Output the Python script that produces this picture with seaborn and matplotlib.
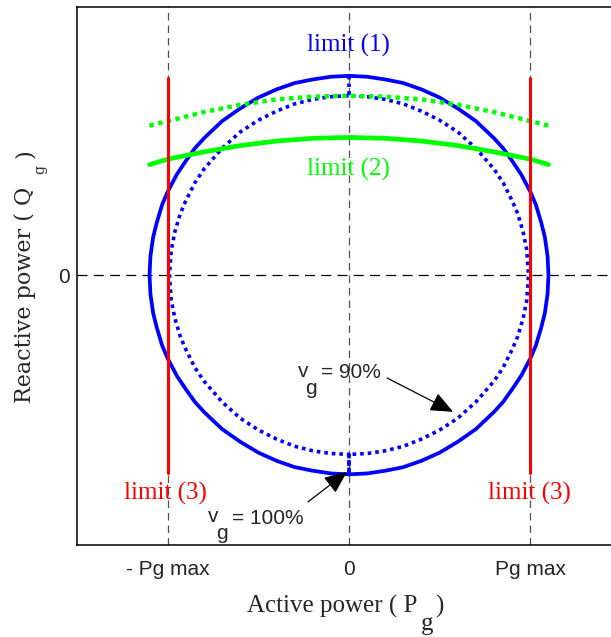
import numpy as np
import matplotlib
matplotlib.use("Agg")
import matplotlib.pyplot as plt
import seaborn as sns

# capability curves (P and Q in units of Pg max)
# first quadrant of each circle, mirrored to close the loop
p_outer = [0.0, 0.1, 0.2, 0.3, 0.4, 0.5, 0.6, 0.7, 0.8, 0.85, 0.9, 0.95, 1.0, 1.03, 1.06, 1.08, 1.095, 1.10]
q_outer = [1.10, 1.095, 1.08, 1.06, 1.025, 0.98, 0.92, 0.85, 0.755, 0.70, 0.63, 0.555, 0.46, 0.39, 0.29, 0.21, 0.105, 0.0]  # vg = 100%

p_inner = [0.0, 0.1, 0.2, 0.3, 0.4, 0.5, 0.6, 0.7, 0.8, 0.85, 0.9, 0.93, 0.96, 0.98, 0.99]
q_inner = [0.99, 0.985, 0.97, 0.945, 0.905, 0.855, 0.79, 0.70, 0.585, 0.51, 0.41, 0.34, 0.24, 0.14, 0.0]  # vg = 90%

# limit (2): field current limit
p_green = [-1.1, -1.0, -0.8, -0.6, -0.4, -0.2, 0.0, 0.2, 0.4, 0.6, 0.8, 1.0, 1.1]
q_green_100 = [0.61, 0.64, 0.68, 0.715, 0.74, 0.755, 0.76, 0.755, 0.74, 0.715, 0.68, 0.64, 0.61]
q_green_90 = [0.825, 0.85, 0.90, 0.94, 0.97, 0.985, 0.99, 0.985, 0.97, 0.94, 0.90, 0.85, 0.825]

# limit (3): turbine power limit
pg_max = 1.0
q_red = [-1.09, 1.09]

xticks = [-1, 0, 1]
xticklabels = ["- Pg max", "0", "Pg max"]


def closed_loop(p, q):
    p = np.asarray(p)
    q = np.asarray(q)
    px = np.concatenate([p, p[::-1][1:], -p[1:], -p[::-1][1:]])
    qy = np.concatenate([q, -q[::-1][1:], -q[1:], q[::-1][1:]])
    return px, qy


sns.set_style("white")
plt.rcParams["font.family"] = ["Liberation Sans", "DejaVu Sans"]

W, H = 611, 637
fig = plt.figure(figsize=(W / 100, H / 100), dpi=100)
ax = fig.add_axes([77 / W, 92 / H, 544 / W, 538 / H])

# reference lines
for x in xticks:
    ax.axvline(x, color="#505050", lw=0.9, ls=(0, (6, 4)), zorder=1)
ax.axhline(0, color="black", lw=0.9, ls=(0, (8, 5)), zorder=1)

# vg = 100 %
px, qy = closed_loop(p_outer, q_outer)
sns.lineplot(x=px, y=qy, sort=False, estimator=None, color="#0000ff", lw=2.7, ax=ax, zorder=3)

# vg = 90 %, joined to the outer curve at top and bottom
ix, iy = closed_loop(p_inner, q_inner)
half = len(p_inner) * 2 - 1
ix = np.concatenate([[0.0], ix[:half], [0.0, 0.0], ix[half:]])
iy = np.concatenate([[q_outer[0]], iy[:half], [-q_outer[0], -q_inner[0]], iy[half:]])
sns.lineplot(x=ix, y=iy, sort=False, estimator=None, color="#0000ff", lw=2.6,
             ls=(0, (1, 1.1)), ax=ax, zorder=3)

sns.lineplot(x=p_green, y=q_green_100, sort=False, estimator=None, color="#00ff00", lw=3.4, ax=ax, zorder=4)
sns.lineplot(x=p_green, y=q_green_90, sort=False, estimator=None, color="#00ff00", lw=3.2,
             ls=(0, (1, 1.0)), ax=ax, zorder=4)

for s in (-1, 1):
    sns.lineplot(x=[s * pg_max, s * pg_max], y=q_red, estimator=None, color="#ff0000", lw=2.2, ax=ax, zorder=5)

ax.set_xlim(-1.5, 1.5)
ax.set_ylim(-1.49, 1.48)
ax.set_xticks(xticks)
ax.set_xticklabels(xticklabels, fontsize=15)
ax.set_yticks([0])
ax.set_yticklabels(["0"], fontsize=15)
ax.tick_params(axis="x", length=0, pad=10.5)
ax.tick_params(axis="y", length=0, pad=5)
ax.set_xlabel("")
ax.set_ylabel("")
for side in ["left", "bottom", "top"]:
    ax.spines[side].set_color("black")
    ax.spines[side].set_linewidth(1.1)
ax.spines["right"].set_visible(False)

serif = "Liberation Serif"
ax.text(-0.005, 1.235, "limit (1)", color="#0000ff", fontsize=18, family=serif, ha="center", va="baseline")
ax.text(-0.005, 0.551, "limit (2)", color="#00ff00", fontsize=18, family=serif, ha="center", va="baseline")
ax.text(-1.01, -1.241, "limit (3)", color="#ff0000", fontsize=18, family=serif, ha="center", va="baseline")
ax.text(0.995, -1.241, "limit (3)", color="#ff0000", fontsize=18, family=serif, ha="center", va="baseline")

arrow = dict(arrowstyle="-|>,head_length=0.7,head_width=0.3", mutation_scale=20,
             color="black", lw=0.9, shrinkA=0, shrinkB=0)
ax.annotate("", xy=(0.574, -0.755), xytext=(0.21, -0.568), arrowprops=arrow)
ax.annotate("", xy=(-0.011, -1.086), xytext=(-0.226, -1.252), arrowprops=arrow)


def ftext(x, y, s, **kw):
    fig.text(x / W, 1 - y / H, s, **kw)


# vg labels
ftext(298, 377, "v", fontsize=15, va="baseline")
ftext(305, 394, "g", fontsize=15, va="baseline")
ftext(321, 378, "= 90%", fontsize=15, va="baseline")
ftext(208, 522, "v", fontsize=15, va="baseline")
ftext(216, 539, "g", fontsize=15, va="baseline")
ftext(232, 524, "= 100%", fontsize=15, va="baseline")

# axis titles
ftext(417, 613, "Active power ( P", fontsize=18, family=serif, ha="right", va="baseline")
ftext(421, 630, "g", fontsize=18, family=serif, ha="left", va="baseline")
ftext(435, 613, ")", fontsize=18, family=serif, ha="left", va="baseline")

ftext(25, 403, "Reactive power ( Q", fontsize=16, family="DejaVu Serif", rotation=90, ha="center", va="bottom")
ftext(40, 174, "g", fontsize=10, family="DejaVu Serif", rotation=90, ha="center", va="bottom")
ftext(25, 158, ")", fontsize=16, family="DejaVu Serif", rotation=90, ha="center", va="bottom")

fig.savefig("out.png", dpi=100)
